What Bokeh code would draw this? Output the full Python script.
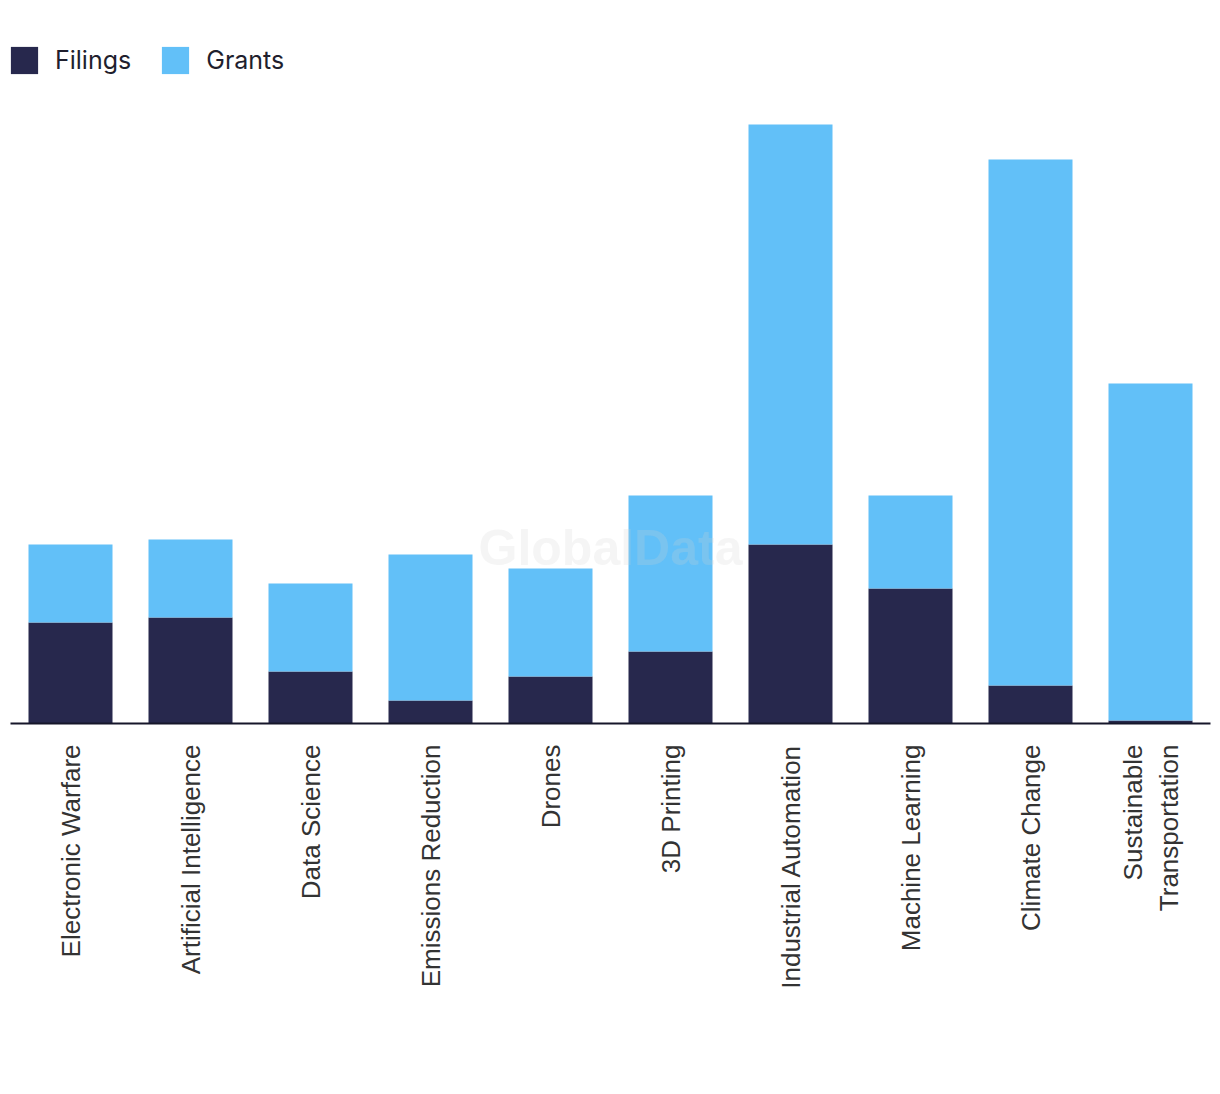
import math
from bokeh.plotting import figure
from bokeh.models import ColumnDataSource, Legend, LegendItem, Label, FactorRange
from bokeh.embed import file_html
from bokeh.resources import INLINE

categories = ["Electronic Warfare", "Artificial Intelligence", "Data Science",
              "Emissions Reduction", "Drones", "3D Printing", "Industrial Automation",
              "Machine Learning", "Climate Change", "Sustainable\nTransportation"]
filings = [101, 106, 52, 23, 47, 72, 179, 135, 38, 3]
grants = [78, 78, 88, 146, 108, 156, 420, 93, 526, 337]
series = ["filings", "grants"]
series_labels = ["Filings", "Grants"]
colors = ["#27284d", "#62c0f8"]

source = ColumnDataSource(data=dict(cat=categories, filings=filings, grants=grants))

p = figure(x_range=FactorRange(*categories, range_padding=0), y_range=(0, 715),
           frame_width=1200, frame_height=715,
           min_border_left=10, min_border_right=2, min_border_top=8, min_border_bottom=10,
           y_axis_location=None, toolbar_location=None, output_backend="svg",
           outline_line_color=None, background_fill_color="white", border_fill_color="white")

renderers = p.vbar_stack(series, x="cat", width=0.7, color=colors, source=source, line_color=None)

p.xgrid.grid_line_color = None
p.ygrid.grid_line_color = None

ax = p.xaxis[0]
ax.major_label_orientation = math.pi / 2
ax.major_label_text_font = "Liberation Sans"
ax.major_label_text_font_size = "26px"
ax.major_label_text_color = "#333333"
ax.major_tick_line_color = None
ax.minor_tick_line_color = None
ax.axis_line_color = "#16162a"
ax.axis_line_width = 2
ax.major_label_standoff = 15

wm = Label(x=5.0, y=176, text="GlobalData", text_align="center", text_baseline="middle",
           text_font="Liberation Sans", text_font_style="bold", text_font_size="50px",
           text_color="#d0d0d0", text_alpha=0.22)
p.add_layout(wm)

legend = Legend(items=[LegendItem(label=series_labels[i], renderers=[renderers[i]]) for i in range(2)],
                orientation="horizontal", location=(-3, 646),
                glyph_width=34, glyph_height=34, label_standoff=14, spacing=27,
                padding=0, margin=0, border_line_color=None, background_fill_alpha=0,
                label_text_font="Inter", label_text_font_size="25px", label_text_color="#1f1f2e",
                label_height=34)
p.add_layout(legend)

open("out.html", "w").write(file_html(p, INLINE))
